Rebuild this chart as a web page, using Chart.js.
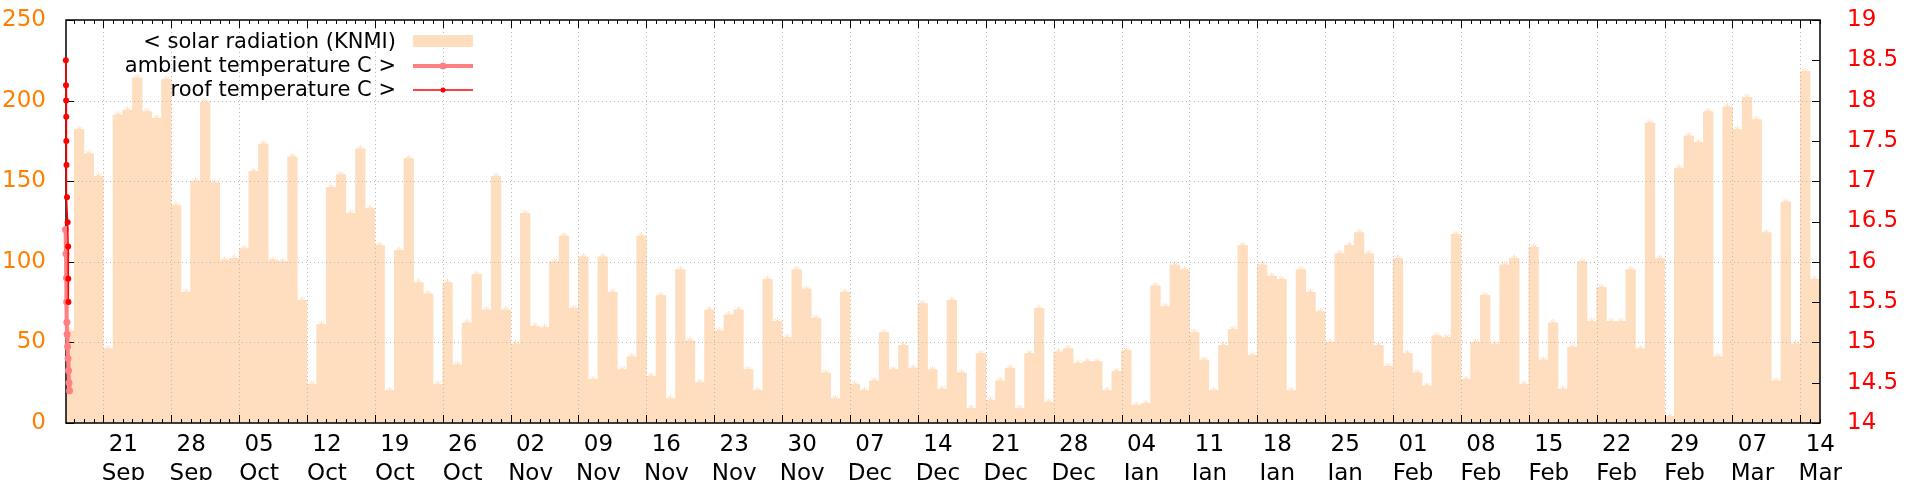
<!DOCTYPE html>
<html>
<head>
<meta charset="utf-8">
<script src="https://cdn.jsdelivr.net/npm/chart.js@4.4.1/dist/chart.umd.min.js"></script>
<style>
    html, body { margin: 0; padding: 0; background: #fff; }
    #caixa { width: 1920px; height: 480px; }
</style>
</head>
<body>
<div id="caixa"><canvas id="grafico"></canvas></div>
<script>
// Dias contados a partir de 21 Sep (dia 0). A radiação começa em 17 Sep.
const primeiroDia = -4;

// Radiação solar diária (KNMI), um valor por dia
const solarSep = [57, 182, 167, 153, 46, 191, 194, 214, 193, 189, 213, 135, 81, 150];
const solarOct = [199, 149, 101, 102, 108, 156, 173, 101, 100, 165, 76, 24, 61, 146, 154, 130,
    170, 133, 110, 20, 107, 164, 87, 80, 24, 87, 36, 62, 92, 70, 153];
const solarNov = [70, 49, 130, 60, 59, 100, 116, 71, 103, 27, 103, 81, 33, 41, 116, 29,
    79, 15, 95, 51, 25, 70, 57, 67, 70, 33, 20, 89, 63, 53];
const solarDec = [95, 83, 65, 31, 15, 81, 24, 20, 26, 56, 33, 48, 34, 74, 33, 21,
    76, 31, 9, 43, 14, 26, 34, 9, 43, 71, 13, 44, 46, 37, 38];
const solarJan = [38, 20, 32, 45, 11, 12, 85, 72, 98, 95, 56, 39, 20, 48, 58, 110,
    42, 98, 91, 89, 20, 95, 81, 69, 50, 105, 110, 118, 105, 48, 35];
const solarFeb = [102, 43, 31, 23, 54, 53, 117, 27, 50, 79, 49, 98, 102, 24, 109, 39,
    62, 21, 47, 100, 63, 84, 63, 63, 95, 46, 186, 102, 4];
const solarMar = [158, 178, 174, 193, 41, 196, 182, 202, 188, 118, 26, 137, 49, 218, 89];
const solar = [].concat(solarSep, solarOct, solarNov, solarDec, solarJan, solarFeb, solarMar);

// Temperaturas (só existem no início do período)
const ambienteTempo = [-4.16, -4.12, -4.08, -4.04, -4.00, -3.90, -3.85, -3.80, -3.78, -3.76,
    -3.74, -3.69, -3.64, -3.59, -3.54, -3.49];
const ambienteTemp = [17.1, 17.0, 16.85, 16.7, 16.6, 16.4, 16.1, 15.8, 15.5, 15.25,
    15.1, 14.95, 14.8, 14.65, 14.5, 14.4];
const telhadoTempo = [-3.88, -3.875, -3.87, -3.85, -3.835, -3.825, -3.815, -3.80, -3.75,
    -3.68, -3.63, -3.615, -3.60];
const telhadoTemp = [19.0, 18.81, 18.5, 18.19, 18.0, 17.8, 17.5, 17.2, 16.8, 16.49, 16.19, 15.79, 15.5];

// Marcas semanais do eixo x
const tickDias = [0, 7, 14, 21, 28, 35, 42, 49, 56, 63, 70, 77, 84, 91, 98, 105, 112, 119,
    126, 133, 140, 147, 154, 161, 168, 175];
const tickLabels = [['21', 'Sep'], ['28', 'Sep'], ['05', 'Oct'], ['12', 'Oct'], ['19', 'Oct'],
    ['26', 'Oct'], ['02', 'Nov'], ['09', 'Nov'], ['16', 'Nov'], ['23', 'Nov'], ['30', 'Nov'],
    ['07', 'Dec'], ['14', 'Dec'], ['21', 'Dec'], ['28', 'Dec'], ['04', 'Jan'], ['11', 'Jan'],
    ['18', 'Jan'], ['25', 'Jan'], ['01', 'Feb'], ['08', 'Feb'], ['15', 'Feb'], ['22', 'Feb'],
    ['29', 'Feb'], ['07', 'Mar'], ['14', 'Mar']];
const gradeY = [50, 100, 150, 200];

const corSolar = 'rgb(255,222,192)';
const corAmbiente = '#ff8080';
const corTelhado = '#ff0000';
const fonte = '"DejaVu Sans", sans-serif';

const pontosSolar = solar.map((v, i) => ({ x: primeiroDia + i + 0.5, y: v }));

// Grade pontilhada, tracinhos para dentro e moldura (por cima das barras, por baixo das linhas)
function desenharMoldura(chart) {
    const { ctx, chartArea: a, scales } = chart;
    const x = scales.x, y = scales.y, y2 = scales.y2;
    ctx.save();
    ctx.strokeStyle = '#b8b8b8';
    ctx.lineWidth = 1;
    ctx.setLineDash([1, 3]);
    ctx.beginPath();
    tickDias.forEach(d => {
        const px = Math.round(x.getPixelForValue(d)) + 0.5;
        ctx.moveTo(px, a.top); ctx.lineTo(px, a.bottom);
    });
    gradeY.forEach(v => {
        const py = Math.round(y.getPixelForValue(v)) + 0.5;
        ctx.moveTo(a.left, py); ctx.lineTo(a.right, py);
    });
    ctx.stroke();
    ctx.setLineDash([]);

    ctx.strokeStyle = '#000';
    ctx.lineWidth = 1;
    ctx.beginPath();
    for (let d = Math.ceil(x.min); d <= x.max; d++) {
        const len = tickDias.includes(d) ? 8 : 4;
        const px = Math.round(x.getPixelForValue(d)) + 0.5;
        ctx.moveTo(px, a.bottom); ctx.lineTo(px, a.bottom - len);
        ctx.moveTo(px, a.top); ctx.lineTo(px, a.top + len);
    }
    y.ticks.forEach(t => {
        const py = Math.round(y.getPixelForValue(t.value)) + 0.5;
        ctx.moveTo(a.left, py); ctx.lineTo(a.left + 8, py);
    });
    y2.ticks.forEach(t => {
        const py = Math.round(y2.getPixelForValue(t.value)) + 0.5;
        ctx.moveTo(a.right, py); ctx.lineTo(a.right - 8, py);
    });
    ctx.stroke();

    ctx.lineWidth = 1.5;
    ctx.strokeRect(a.left, a.top, a.right - a.left, a.bottom - a.top);
    ctx.restore();
}

const moldura = {
    id: 'moldura',
    afterDatasetDraw(chart, args) {
        if (args.index === 1) desenharMoldura(chart);
    },
    afterDraw(chart) {
        // Legenda no canto superior esquerdo, texto alinhado à direita
        const ctx = chart.ctx;
        const ds = chart.data.datasets;
        const xTexto = 396, x0 = 413, x1 = 473;
        ctx.save();
        ctx.font = '21px ' + fonte;
        ctx.fillStyle = '#000';
        ctx.textAlign = 'right';
        ctx.textBaseline = 'middle';

        ctx.fillText(ds[0].label, xTexto, 43);
        ctx.fillStyle = corSolar;
        ctx.fillRect(x0, 35, x1 - x0, 12);

        ctx.fillStyle = '#000';
        ctx.fillText(ds[2].label, xTexto, 67);
        ctx.strokeStyle = corAmbiente;
        ctx.lineWidth = 4;
        ctx.beginPath(); ctx.moveTo(x0, 66); ctx.lineTo(x1, 66); ctx.stroke();
        ctx.fillStyle = corAmbiente;
        ctx.beginPath(); ctx.arc((x0 + x1) / 2, 66, 3.5, 0, Math.PI * 2); ctx.fill();

        ctx.fillStyle = '#000';
        ctx.fillText(ds[3].label, xTexto, 91);
        ctx.strokeStyle = corTelhado;
        ctx.lineWidth = 1.5;
        ctx.beginPath(); ctx.moveTo(x0, 90); ctx.lineTo(x1, 90); ctx.stroke();
        ctx.fillStyle = corTelhado;
        ctx.beginPath(); ctx.arc((x0 + x1) / 2, 90, 2.5, 0, Math.PI * 2); ctx.fill();
        ctx.restore();
    }
};

new Chart(document.getElementById('grafico'), {
    type: 'bar',
    data: {
        datasets: [
            {
                type: 'bar',
                label: '< solar radiation (KNMI)',
                data: pontosSolar,
                backgroundColor: corSolar,
                borderWidth: 0,
                barPercentage: 1,
                categoryPercentage: 1,
                yAxisID: 'y',
                order: 4
            },
            {
                type: 'line',
                label: 'solar marks',
                data: pontosSolar,
                showLine: false,
                pointStyle: 'star',
                pointRadius: 4,
                pointBorderColor: corSolar,
                pointBorderWidth: 1,
                yAxisID: 'y',
                order: 3
            },
            {
                type: 'line',
                label: 'ambient temperature C >',
                data: ambienteTempo.map((t, i) => ({ x: t, y: ambienteTemp[i] })),
                borderColor: corAmbiente,
                backgroundColor: corAmbiente,
                borderWidth: 4,
                pointRadius: 3.5,
                pointBorderWidth: 0,
                tension: 0,
                clip: 8,
                yAxisID: 'y2',
                order: 2
            },
            {
                type: 'line',
                label: 'roof temperature C >',
                data: telhadoTempo.map((t, i) => ({ x: t, y: telhadoTemp[i] })),
                borderColor: corTelhado,
                backgroundColor: corTelhado,
                borderWidth: 1.5,
                pointRadius: 3,
                pointBorderWidth: 0,
                tension: 0,
                clip: 8,
                yAxisID: 'y2',
                order: 1
            }
        ]
    },
    options: {
        responsive: true,
        maintainAspectRatio: false,
        animation: false,
        layout: { padding: { top: 20, left: 0, right: 0, bottom: 0 } },
        plugins: { legend: { display: false }, tooltip: { enabled: false } },
        scales: {
            x: {
                type: 'linear',
                min: -3.85,
                max: 177.03,
                offset: false,
                grid: { display: false },
                border: { display: false },
                afterBuildTicks: s => { s.ticks = tickDias.map(v => ({ value: v })); },
                afterFit: s => { s.height = 57; s.paddingLeft = 0; s.paddingRight = 0; },
                ticks: {
                    autoSkip: false,
                    maxRotation: 0,
                    labelOffset: 20,
                    padding: -1,
                    color: '#000',
                    font: { family: fonte, size: 23, lineHeight: 1.27 },
                    callback: (v, i) => tickLabels[i]
                }
            },
            y: {
                position: 'left',
                min: 0,
                max: 250,
                grid: { display: false },
                border: { display: false },
                afterFit: s => { s.width = 66; s.paddingTop = 0; s.paddingBottom = 0; },
                ticks: { stepSize: 50, padding: 12, color: '#ff8000', font: { family: fonte, size: 23 } }
            },
            y2: {
                position: 'right',
                min: 14,
                max: 19,
                grid: { display: false },
                border: { display: false },
                afterFit: s => { s.width = 100; s.paddingTop = 0; s.paddingBottom = 0; },
                ticks: {
                    stepSize: 0.5,
                    padding: 19,
                    color: '#ff0000',
                    font: { family: fonte, size: 23 },
                    callback: v => String(v)
                }
            }
        }
    },
    plugins: [moldura]
});
</script>
</body>
</html>
